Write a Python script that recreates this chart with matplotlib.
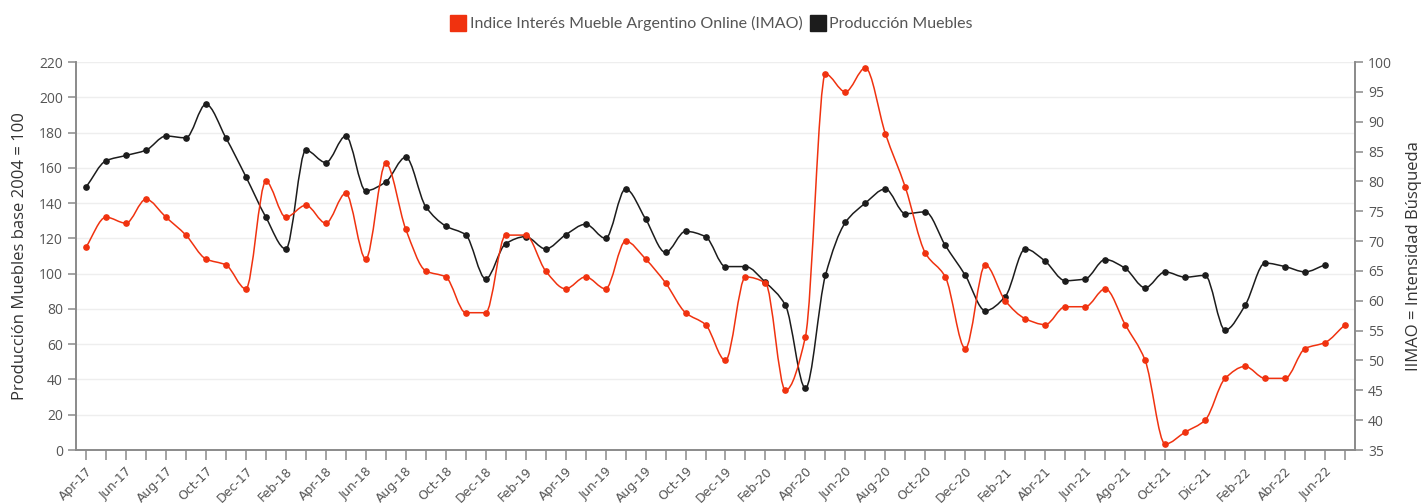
import matplotlib.pyplot as plt
from matplotlib.lines import Line2D
from matplotlib.path import Path
from matplotlib.patches import PathPatch
import numpy as np

meses = ['Apr-17', 'May-17', 'Jun-17', 'Jul-17', 'Aug-17', 'Sep-17', 'Oct-17', 'Nov-17', 'Dec-17',
         'Jan-18', 'Feb-18', 'Mar-18', 'Apr-18', 'May-18', 'Jun-18', 'Jul-18', 'Aug-18', 'Sep-18',
         'Oct-18', 'Nov-18', 'Dec-18', 'Jan-19', 'Feb-19', 'Mar-19', 'Apr-19', 'May-19', 'Jun-19',
         'Jul-19', 'Aug-19', 'Sep-19', 'Oct-19', 'Nov-19', 'Dec-19', 'Jan-20', 'Feb-20', 'Mar-20',
         'Apr-20', 'May-20', 'Jun-20', 'Jul-20', 'Aug-20', 'Sep-20', 'Oct-20', 'Nov-20', 'Dec-20',
         'Jan-21', 'Feb-21', 'Mar-21', 'Abr-21', 'May-21', 'Jun-21', 'Jul-21', 'Ago-21', 'Sep-21',
         'Oct-21', 'Nov-21', 'Dic-21', 'Jan-22', 'Feb-22', 'Mar-22', 'Abr-22', 'May-22', 'Jun-22',
         'Jul-22']

# Produccion Muebles (eje izquierdo)
produccion = [149, 164, 167, 170, 178, 177, 196, 177, 155, 132, 114, 170, 163, 178, 147, 152,
              166, 138, 127, 122, 97, 117, 121, 114, 122, 128, 120, 148, 131, 112, 124, 121,
              104, 104, 95, 82, 35, 99, 129, 140, 148, 134, 135, 116, 99, 79, 87, 114, 107,
              96, 97, 108, 103, 92, 101, 98, 99, 68, 82, 106, 104, 101, 105]

# IMAO (eje derecho)
imao = [69, 74, 73, 77, 74, 71, 67, 66, 62, 80, 74, 76, 73, 78, 67, 83, 72, 65, 64, 58, 58,
        71, 71, 65, 62, 64, 62, 70, 67, 63, 58, 56, 50, 64, 63, 45, 54, 98, 95, 99, 88, 79,
        68, 64, 52, 66, 60, 57, 56, 59, 59, 62, 56, 50, 36, 38, 40, 47, 49, 47, 47, 52, 53, 56]

rojo = '#f0320f'
negro = '#1c1c1c'
gris = '#8a8a8a'
texto = '#555555'


def curva(a, xs, ys, color):
    # linea suavizada (bezier monotona) que pasa por los puntos
    xs = np.asarray(xs, float)
    ys = np.asarray(ys, float)
    d = np.diff(ys)
    m = np.zeros_like(ys)
    for i in range(1, len(ys) - 1):
        if d[i - 1] * d[i] > 0:
            m[i] = 2 / (1 / d[i - 1] + 1 / d[i])
    m[0], m[-1] = d[0], d[-1]
    verts = [(xs[0], ys[0])]
    codes = [Path.MOVETO]
    for i in range(len(ys) - 1):
        verts += [(xs[i] + 1 / 3, ys[i] + m[i] / 3),
                  (xs[i + 1] - 1 / 3, ys[i + 1] - m[i + 1] / 3),
                  (xs[i + 1], ys[i + 1])]
        codes += [Path.CURVE4] * 3
    a.add_patch(PathPatch(Path(verts, codes), fill=False, edgecolor=color, lw=1.1, zorder=3))
    a.plot(xs, ys, ls='none', marker='o', ms=3.8, color=color, zorder=4)


plt.rcParams['font.family'] = ['Open Sans', 'DejaVu Sans']

fig = plt.figure(figsize=(14.25, 5.03), dpi=100)
ax = fig.add_axes([76 / 1425, 53 / 503, 1279 / 1425, 388 / 503])
ax2 = ax.twinx()

x = np.arange(len(imao))
curva(ax, x[:len(produccion)], produccion, negro)
curva(ax2, x, imao, rojo)

ax.set_xlim(-0.5, len(imao) - 0.5)
ax.set_ylim(0, 220)
ax.set_yticks(range(0, 221, 20))
ax2.set_ylim(35, 100)
ax2.set_yticks(range(35, 101, 5))

ax.set_xticks(x, minor=True)
ax.set_xticks(x[::2])
ax.set_xticklabels(meses[::2], rotation=45, ha='right', rotation_mode='anchor',
                   fontsize=9, color=texto, family=['Verdana', 'DejaVu Sans'])

ax.yaxis.grid(True, color='#eeeeee', lw=1)
ax.set_axisbelow(True)

for a in (ax, ax2):
    a.spines['top'].set_visible(False)
    for s in ('left', 'right', 'bottom'):
        a.spines[s].set_color(gris)
        a.spines[s].set_linewidth(1.2)
    a.tick_params(which='both', colors=gris, labelcolor=texto, labelsize=10, length=6, width=1.1)
ax.tick_params(axis='x', which='both', length=7)
ax.tick_params(axis='x', labelsize=9)

ax.set_ylabel('Producción Muebles base 2004 = 100', fontsize=12, color='#333333', labelpad=8)
ax2.set_ylabel('IIMAO = Intensidad Búsqueda', fontsize=12, color='#333333', labelpad=10)

handles = [Line2D([], [], ls='none', marker='s', ms=11, color=rojo),
           Line2D([], [], ls='none', marker='s', ms=11, color=negro)]
fig.legend(handles, ['Indice Interés Mueble Argentino Online (IMAO)', 'Producción Muebles'],
           loc='center', bbox_to_anchor=(0.5, 0.953), ncol=2, frameon=False,
           handlelength=0.7, handletextpad=0.35, columnspacing=0.6,
           prop={'family': 'Lato', 'size': 11.5}, labelcolor=texto)

fig.savefig('out.png', dpi=100)
